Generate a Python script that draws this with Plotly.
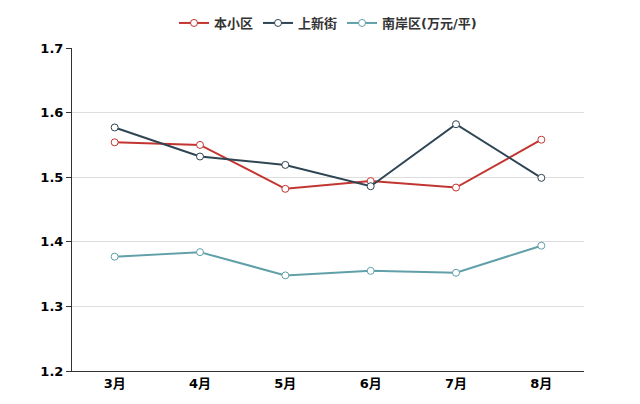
import plotly.graph_objects as go

months = ["3月", "4月", "5月", "6月", "7月", "8月"]
s1_name, s1 = "本小区", [1.554, 1.550, 1.482, 1.494, 1.484, 1.558]
s2_name, s2 = "上新街", [1.577, 1.532, 1.519, 1.486, 1.582, 1.499]
s3_name, s3 = "南岸区(万元/平)", [1.377, 1.384, 1.348, 1.355, 1.352, 1.394]
colors = ["#c23531", "#2f4554", "#61a0a8"]

fig = go.Figure()
for name, vals, c in [(s1_name, s1, colors[0]), (s2_name, s2, colors[1]), (s3_name, s3, colors[2])]:
    fig.add_trace(go.Scatter(x=months, y=vals, name=name, mode="lines+markers",
                             line=dict(color=c, width=2),
                             marker=dict(symbol="circle", size=7, color="white",
                                         line=dict(color=c, width=1))))

font = "DejaVu Sans, Noto Sans CJK SC, sans-serif"
fig.update_layout(
    width=640, height=404, paper_bgcolor="white", plot_bgcolor="white",
    margin=dict(l=64, r=64, t=40, b=41, autoexpand=False),
    font=dict(family=font, size=12, color="#333"),
    legend=dict(orientation="h", x=0.5, xanchor="center", y=1.0, yanchor="top",
                yref="container", font=dict(size=13, color="#333", weight="bold"),
                itemwidth=30, tracegroupgap=0),
    xaxis=dict(type="category", range=[-0.5, 5.5], showgrid=False, showline=True,
               linecolor="#333", ticks="", automargin=False,
               tickfont=dict(size=13, color="black", weight="bold")),
    yaxis=dict(range=[1.2, 1.7], dtick=0.1, tickformat=".1f", showgrid=True, gridcolor="#ddd",
               showline=True, linecolor="#333", ticks="outside", ticklen=5, tickcolor="#333",
               zeroline=False, automargin=False, tickfont=dict(size=13, color="black", weight="bold")),
)
fig.write_html("out.html")
